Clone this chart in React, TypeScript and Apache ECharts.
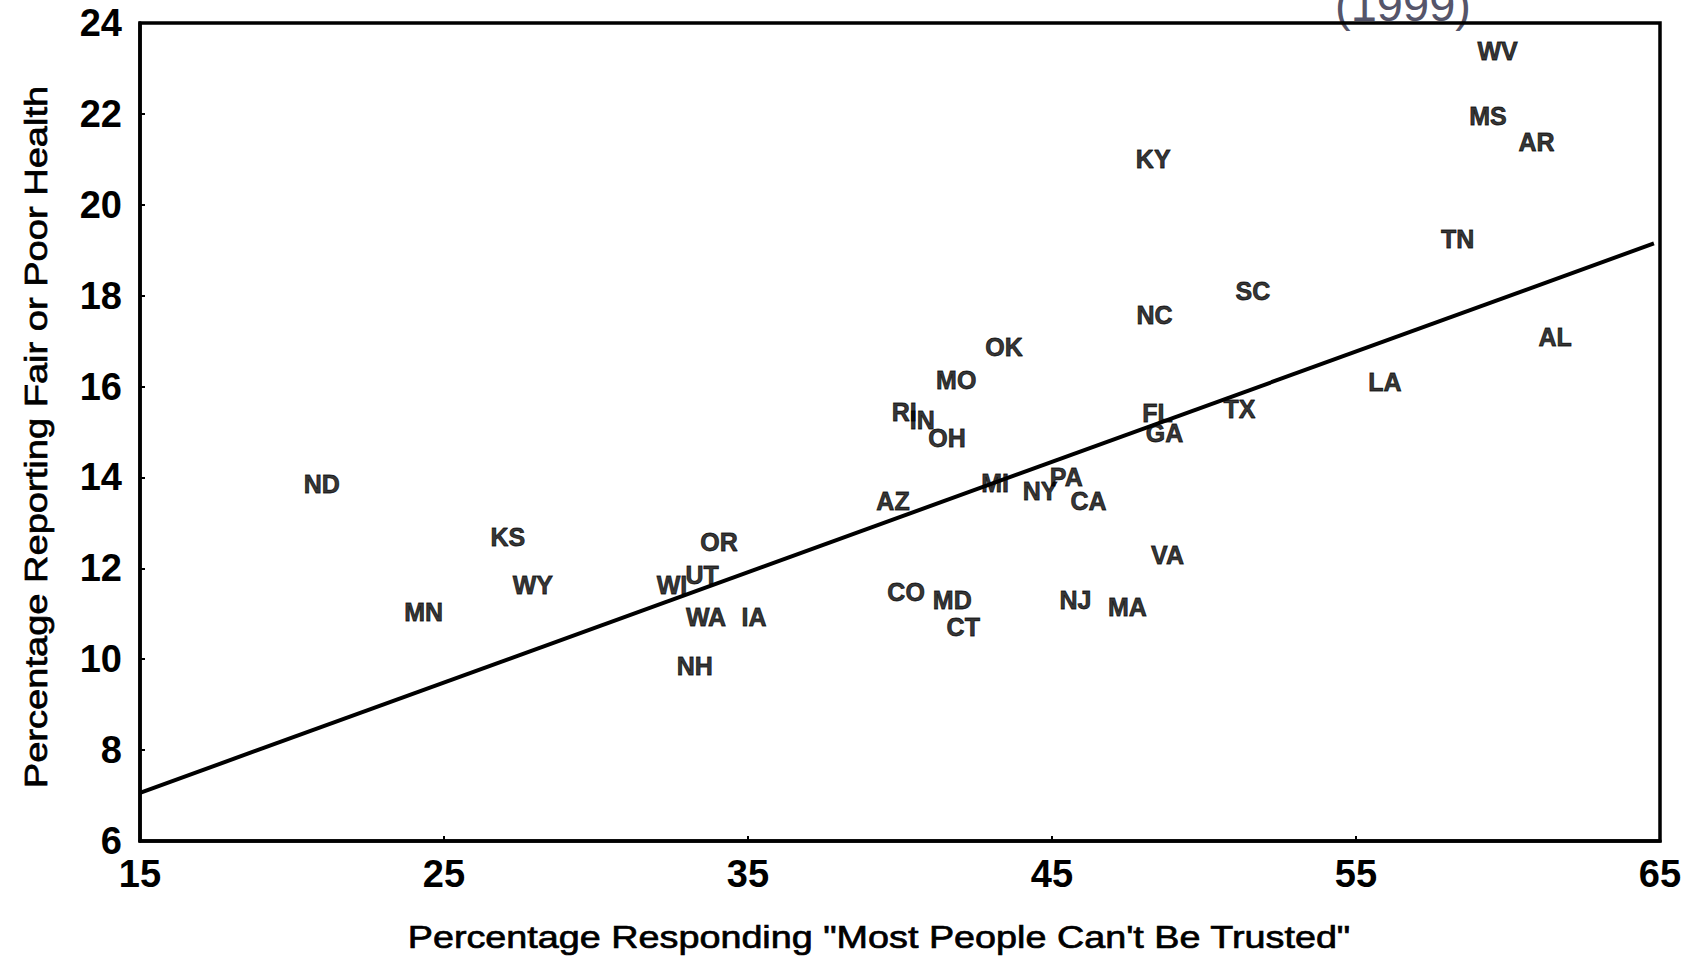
import React, { useEffect, useRef } from "react";
import * as echarts from "echarts";

// State abbreviations (labels drawn at each point)
const states = [
  "WV", "MS", "AR", "KY", "TN", "SC", "NC", "AL", "OK", "MO",
  "LA", "RI", "IN", "OH", "FL", "TX", "GA", "ND", "MI", "PA",
  "NY", "CA", "AZ", "KS", "OR", "VA", "UT", "WI", "WY", "CO",
  "MD", "NJ", "MN", "MA", "WA", "IA", "CT", "NH",
];

// Percentage responding "Most people can't be trusted"
const distrust = [
  59.66, 59.34, 60.94, 48.33, 58.34, 51.61, 48.37, 61.55, 43.42, 41.85,
  55.95, 40.14, 40.73, 41.55, 48.47, 51.17, 48.7, 20.98, 43.13, 45.47,
  44.61, 46.2, 39.77, 27.1, 34.05, 48.8, 33.49, 32.5, 27.92, 40.2,
  41.72, 45.77, 24.33, 47.48, 33.62, 35.2, 42.08, 33.25,
];

// Percentage reporting fair or poor health
const poorHealth = [
  23.38, 21.95, 21.38, 21.0, 19.24, 18.1, 17.57, 17.1, 16.86, 16.14,
  16.1, 15.43, 15.26, 14.86, 15.41, 15.5, 14.97, 13.86, 13.87, 14.02,
  13.71, 13.49, 13.49, 12.7, 12.57, 12.3, 11.86, 11.64, 11.64, 11.49,
  11.31, 11.31, 11.03, 11.14, 10.94, 10.94, 10.7, 9.84,
];

// Regression line end points [x, y]
const trendLine: [number, number][] = [
  [15, 7.06],
  [64.8, 19.15],
];

const xTitle = "Percentage Responding \"Most People Can't Be Trusted\"";
const yTitle = "Percentage Reporting Fair or Poor Health";
const caption = "(1999)";

const FONT = '"Liberation Sans", Arial, Helvetica, sans-serif';

export default function App() {
  const ref = useRef<HTMLDivElement>(null);

  useEffect(() => {
    if (!ref.current) return;
    const chart = echarts.init(ref.current, null, { renderer: "svg" });

    const axisCommon = {
      type: "value" as const,
      axisLine: { show: true, lineStyle: { color: "#000", width: 3.5 } },
      axisTick: { show: true, inside: true, length: 5, lineStyle: { color: "#000", width: 2 } },
      splitLine: { show: false },
      axisLabel: {
        color: "#000",
        fontFamily: FONT,
        fontWeight: "bold" as const,
        fontSize: 38,
      },
    };

    chart.setOption({
      animation: false,
      backgroundColor: "#fff",
      grid: {
        left: 140,
        right: 36,
        top: 23,
        bottom: 119,
        show: true,
        borderColor: "#000",
        borderWidth: 3.5,
        backgroundColor: "transparent",
      },
      xAxis: {
        ...axisCommon,
        min: 15,
        max: 65,
        interval: 10,
        axisLabel: { ...axisCommon.axisLabel, margin: 14 },
      },
      yAxis: {
        ...axisCommon,
        min: 6,
        max: 24,
        interval: 2,
        axisLabel: { ...axisCommon.axisLabel, margin: 18 },
      },
      series: [
        {
          type: "line",
          data: trendLine,
          symbol: "none",
          lineStyle: { color: "#000", width: 4 },
          z: 2,
          silent: true,
        },
        {
          type: "scatter",
          data: states.map((s, i) => [distrust[i], poorHealth[i], s]),
          symbolSize: 1,
          itemStyle: { color: "rgba(0,0,0,0)" },
          label: {
            show: true,
            position: "inside",
            formatter: (p: any) => p.data[2],
            color: "#000",
            fontFamily: FONT,
            fontWeight: "bold",
            fontSize: 25,
            textBorderColor: "#000",
            textBorderWidth: 0.8,
          },
          z: 3,
        },
      ],
      graphic: [
        {
          type: "text",
          x: 1403,
          y: 4,
          z: -1,
          style: {
            text: caption,
            font: '47px "Liberation Sans", Arial, sans-serif',
            fill: "#55556a",
            textAlign: "center",
            textVerticalAlign: "middle",
            align: "center",
            verticalAlign: "middle",
          },
        },
        {
          type: "text",
          x: 879,
          y: 937,
          scaleX: 1.18,
          style: {
            text: xTitle,
            font: '32px "Liberation Sans", Arial, sans-serif',
            fill: "#000",
            stroke: "#000",
            lineWidth: 0.7,
            textAlign: "center",
            textVerticalAlign: "middle",
            align: "center",
            verticalAlign: "middle",
          },
        },
        {
          type: "text",
          x: 36,
          y: 437,
          rotation: Math.PI / 2,
          scaleX: 1.19,
          style: {
            text: yTitle,
            font: '32px "Liberation Sans", Arial, sans-serif',
            fill: "#000",
            stroke: "#000",
            lineWidth: 0.7,
            textAlign: "center",
            textVerticalAlign: "middle",
            align: "center",
            verticalAlign: "middle",
          },
        },
      ],
    });

    return () => chart.dispose();
  }, []);

  return (
    <div
      ref={ref}
      style={{ position: "fixed", left: 0, top: 0, width: 1696, height: 960 }}
    />
  );
}
